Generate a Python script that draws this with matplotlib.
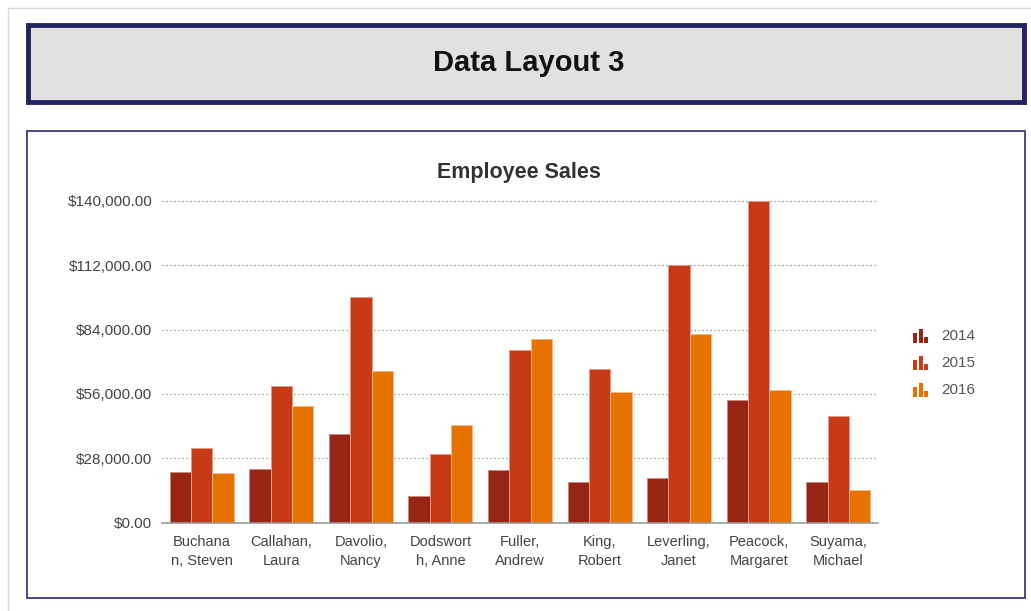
import matplotlib
matplotlib.use("Agg")
import matplotlib.pyplot as plt
from matplotlib.patches import Rectangle
from matplotlib.ticker import FuncFormatter, FixedLocator
import numpy as np

plt.rcParams['font.family'] = ['Liberation Sans', 'DejaVu Sans']

# ---- data ----
employees = ["Buchana\nn, Steven", "Callahan,\nLaura", "Davolio,\nNancy", "Dodswort\nh, Anne",
             "Fuller,\nAndrew", "King,\nRobert", "Leverling,\nJanet", "Peacock,\nMargaret",
             "Suyama,\nMichael"]
years = ["2014", "2015", "2016"]
sales_2014 = [21900, 23350, 38700, 11600, 22800, 17800, 19300, 53500, 17800]
sales_2015 = [32600, 59600, 98100, 29700, 75100, 66700, 112000, 140000, 46500]
sales_2016 = [21500, 50600, 66000, 42350, 79900, 57000, 82000, 57700, 14350]
y_ticks = [0, 28000, 56000, 84000, 112000, 140000]

colors = ["#962513", "#C83A16", "#E67300"]
edge_colors = ["#c98a80", "#e69a85", "#f3b98a"]

W, H = 1031, 611
fig = plt.figure(figsize=(W / 100, H / 100), dpi=100)
fig.patch.set_facecolor("white")


def fx(x):
    return x / W


def fy(y):
    return 1 - y / H


# page frame (faint)
fig.add_artist(Rectangle((fx(8), fy(612)), fx(1031), 604 / H, transform=fig.transFigure,
                         fill=False, edgecolor="#d8d8d8", linewidth=1))

# header box
fig.add_artist(Rectangle((fx(28), fy(102)), fx(1024 - 28), 77 / H, transform=fig.transFigure,
                         facecolor="#e1e1e1", edgecolor="#232360", linewidth=3.5))
fig.text(fx(529), fy(63), "Data Layout 3", ha="center", va="center",
         fontsize=21, fontweight="bold", color="#111111")

# chart panel
fig.add_artist(Rectangle((fx(26.5), fy(598)), fx(1024.5 - 26.5), 467 / H, transform=fig.transFigure,
                         fill=False, edgecolor="#3a3a80", linewidth=1.3))
fig.text(fx(519), fy(172), "Employee Sales", ha="center", va="center",
         fontsize=15.5, fontweight="bold", color="#333333")

# plot area
left, right, top, bottom = 162, 878, 200.7, 522.7
ax = fig.add_axes([fx(left), fy(bottom), fx(right - left), (bottom - top) / H])
ax.set_facecolor("none")

n = len(employees)
x = np.arange(n)
bw = 0.268
series = [sales_2014, sales_2015, sales_2016]
for i, vals in enumerate(series):
    ax.bar(x + (i - 1) * bw, vals, width=bw, color=colors[i],
           edgecolor=edge_colors[i], linewidth=0.7, zorder=3)

ax.set_xlim(-0.5, n - 0.5)
ax.set_ylim(0, 140000)

for t in y_ticks[1:]:
    ax.axhline(t, color="#888888", linestyle=(0, (1, 2.2)), linewidth=0.9, zorder=1, clip_on=False,
               xmax=0.997)

for s in ["top", "right", "left"]:
    ax.spines[s].set_visible(False)
ax.spines["bottom"].set_color("#999999")
ax.spines["bottom"].set_linewidth(1.2)
ax.spines["bottom"].set_zorder(4)

ax.yaxis.set_major_locator(FixedLocator(y_ticks))
ax.yaxis.set_major_formatter(FuncFormatter(lambda v, p: "${:,.2f}".format(v)))
ax.tick_params(axis="y", length=0, pad=7, labelsize=11, labelcolor="#444444")
ax.set_xticks(x)
ax.set_xticklabels(employees, fontsize=10.5, color="#444444", linespacing=1.42)
ax.tick_params(axis="x", length=0, pad=9)

# legend with small bar-chart glyphs
leg_y = [336, 363, 390]
glyph = [(0, 4, 10), (5.5, 4, 14), (11, 4, 6)]  # x offset, width, height
for i, yr in enumerate(years):
    base = leg_y[i] + 7
    for dx, w, h in glyph:
        fig.add_artist(Rectangle((fx(913 + dx), fy(base)), fx(w), h / H, transform=fig.transFigure,
                                 facecolor=colors[i], edgecolor="none"))
    fig.text(fx(941), fy(leg_y[i]), yr, ha="left", va="center", fontsize=11, color="#555555")

fig.savefig("out.png", dpi=100, facecolor="white")
